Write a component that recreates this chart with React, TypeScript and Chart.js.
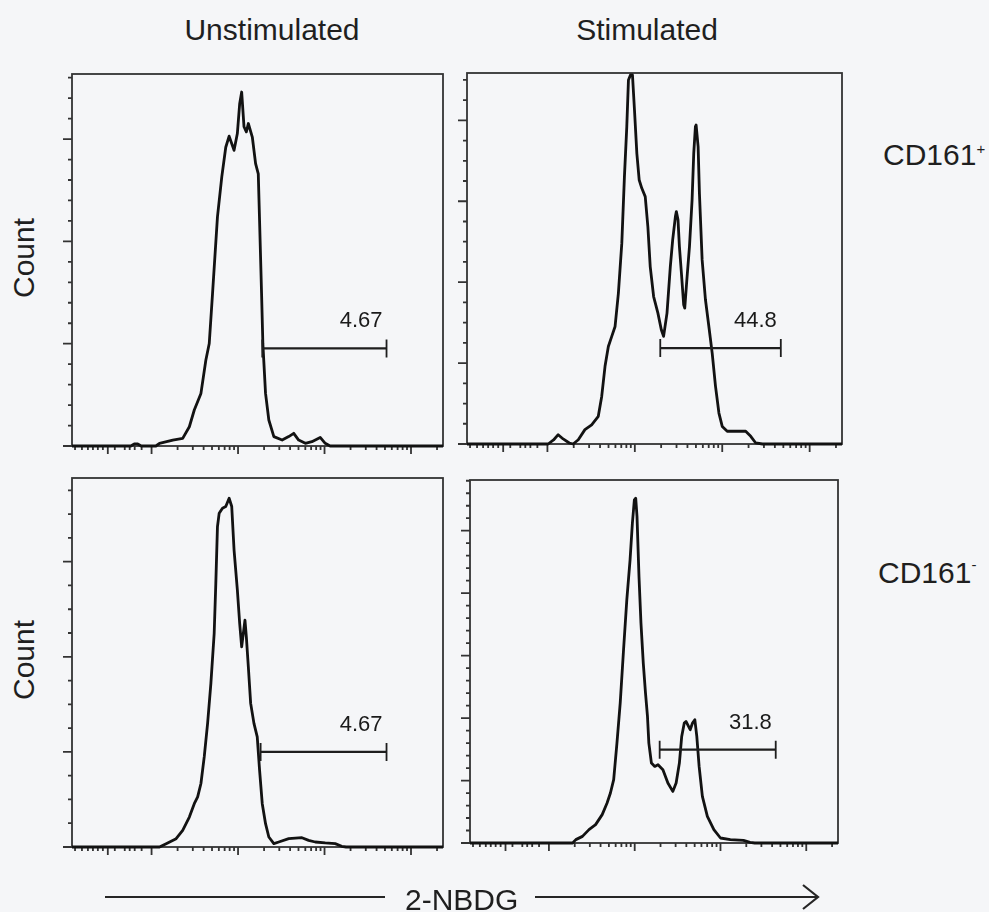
import React, { useEffect, useRef } from 'react';
import { Chart, registerables } from 'chart.js';

Chart.register(...registerables);

// 2-NBDG axis in log10 display units (biexponential zone below 10^2)
const X_MIN = 1.08;
const X_MAX = 5.37;
const xMajorTicks = [1.494, 2, 3, 4, 5];
const xMinorTicks = [
  1.115, 1.195, 1.264, 1.322, 1.379, 1.437, 1.575, 1.69, 1.747, 1.805, 1.885,
  2.301, 2.477, 2.602, 2.699, 2.778, 2.845, 2.903, 2.954,
  3.301, 3.477, 3.602, 3.699, 3.778, 3.845, 3.903, 3.954,
  4.301, 4.477, 4.602, 4.699, 4.778, 4.845, 4.903, 4.954,
  5.301,
];

// Unstimulated, CD161+
const unstimPosX = [1.08, 1.76, 1.8, 1.84, 1.88, 2.05, 2.092, 2.245, 2.36, 2.437, 2.494, 2.571, 2.628, 2.667, 2.705, 2.762, 2.812, 2.858, 2.897, 2.954, 2.992, 3.019, 3.042, 3.069, 3.096, 3.119, 3.165, 3.203, 3.234, 3.249, 3.272, 3.287, 3.318, 3.356, 3.414, 3.51, 3.586, 3.644, 3.701, 3.778, 3.854, 3.95, 4.008, 4.065, 5.37];
const unstimPosY = [0, 0, 1.0, 1.0, 0, 0, 1.3, 2.9, 3.7, 9.4, 17.6, 25.7, 42, 50.1, 74.5, 112, 131.5, 146, 151.4, 144.5, 152.7, 167.3, 173, 156, 153.5, 157.6, 151, 138, 133, 110, 74.5, 50, 25.7, 12.7, 4.6, 2.9, 4.6, 6.2, 2.9, 1.3, 2.1, 4.2, 1.3, 0, 0];

// Stimulated, CD161+
const stimPosX = [1.08, 2.008, 2.07, 2.123, 2.18, 2.25, 2.295, 2.353, 2.429, 2.506, 2.582, 2.621, 2.659, 2.697, 2.736, 2.774, 2.812, 2.851, 2.881, 2.908, 2.927, 2.95, 2.973, 2.996, 3.023, 3.05, 3.08, 3.119, 3.149, 3.176, 3.215, 3.264, 3.303, 3.329, 3.368, 3.406, 3.433, 3.464, 3.475, 3.494, 3.51, 3.533, 3.559, 3.571, 3.598, 3.625, 3.655, 3.674, 3.693, 3.701, 3.724, 3.739, 3.77, 3.808, 3.847, 3.885, 3.923, 3.962, 4.0, 4.057, 4.115, 4.268, 4.326, 4.383, 4.46, 5.37];
const stimPosY = [0, 0, 2.0, 4.6, 2.5, 0.5, 0, 2.1, 7.1, 9.5, 13.7, 23.5, 38.4, 48.2, 53.2, 58.1, 74.6, 99.3, 132.2, 156.9, 179.9, 182.4, 182.4, 165.1, 143.7, 130.5, 126.4, 122.3, 107.5, 87.7, 72.9, 64.7, 56.5, 53.2, 64.7, 87.7, 100.9, 112.4, 114.9, 110.8, 97.6, 84.4, 68.8, 67.2, 82.8, 97.6, 120.7, 143.7, 156.9, 157.7, 147.0, 123.9, 91.0, 71.3, 58.1, 44.9, 28.5, 15.3, 8.7, 6.3, 6.3, 6.3, 3.8, 0.5, 0, 0];

// Unstimulated, CD161-
const unstimNegX = [1.08, 2.092, 2.169, 2.284, 2.36, 2.437, 2.494, 2.533, 2.571, 2.609, 2.648, 2.686, 2.724, 2.743, 2.762, 2.782, 2.82, 2.858, 2.897, 2.927, 2.954, 2.992, 3.019, 3.042, 3.08, 3.096, 3.119, 3.146, 3.184, 3.222, 3.249, 3.28, 3.318, 3.356, 3.414, 3.471, 3.586, 3.739, 3.816, 3.893, 4.008, 4.123, 4.199, 4.25, 5.37];
const unstimNegY = [0, 0, 1.4, 3.5, 7.0, 12.6, 18.2, 21.1, 26.7, 37.9, 52.0, 68.8, 89.8, 110.9, 134.7, 140.4, 142.5, 143.2, 146.7, 143.2, 124.9, 108.1, 94.0, 84.2, 95.4, 88.4, 75.8, 60.4, 52.0, 46.3, 32.3, 18.2, 9.8, 4.2, 1.4, 2.1, 3.5, 3.9, 2.8, 2.1, 1.7, 1.4, 0.3, 0, 0];

// Stimulated, CD161-
const stimNegX = [1.08, 2.276, 2.314, 2.391, 2.467, 2.544, 2.621, 2.678, 2.717, 2.755, 2.793, 2.831, 2.87, 2.908, 2.946, 2.973, 2.996, 3.012, 3.027, 3.05, 3.073, 3.1, 3.126, 3.149, 3.165, 3.195, 3.234, 3.272, 3.329, 3.387, 3.444, 3.483, 3.521, 3.548, 3.578, 3.598, 3.647, 3.674, 3.701, 3.724, 3.751, 3.789, 3.847, 3.923, 4.0, 4.115, 4.268, 4.345, 4.4, 5.37];
const stimNegY = [0, 0, 2.7, 5.3, 10.7, 14.7, 22.7, 32.0, 40.0, 50.7, 80.0, 112.0, 154.7, 194.7, 226.7, 256.0, 274.7, 276.0, 261.3, 213.3, 176.0, 144.0, 120.0, 101.3, 80.0, 64.0, 61.3, 62.7, 58.7, 48.0, 41.3, 48.0, 64.0, 85.3, 96.0, 97.3, 90.7, 96.0, 98.7, 85.3, 61.3, 37.3, 21.3, 10.7, 4.0, 2.7, 2.1, 0.5, 0, 0];

// Positive-gate markers, one per panel (order: unstim+, stim+, unstim-, stim-)
const gateStart = [3.28, 3.291, 3.261, 3.291];
const gateEnd = [4.717, 4.67, 4.717, 4.644];
const gateLevel = [47.7, 47.4, 40.0, 74.7];
const gateLabels = ['4.67', '44.8', '4.67', '31.8'];

// Count axes
const yMaxes = [181.8, 183.4, 155.2, 290.6];
const yMajorSteps = [50, 40, 40, 50];
const Y_MINOR_STEP = 10;

const panelXs = [unstimPosX, stimPosX, unstimNegX, stimNegX];
const panelYs = [unstimPosY, stimPosY, unstimNegY, stimNegY];

const PANEL_BOXES = [
  { left: 72, top: 74, width: 371, height: 372 },
  { left: 467, top: 73, width: 375, height: 371 },
  { left: 72, top: 478, width: 371, height: 369 },
  { left: 470, top: 480, width: 368, height: 363 },
];
const PAD = { left: 14, top: 4, right: 4, bottom: 12 };

const FONT = '"Liberation Sans", Arial, sans-serif';
const INK = '#121212';
const FRAME = '#333333';

const facsPlugin = {
  id: 'facs',
  beforeDatasetsDraw(chart: any, _args: any, opts: any) {
    const { ctx, chartArea: a, scales } = chart;
    const xs = scales.x;
    const ys = scales.y;
    ctx.save();
    ctx.strokeStyle = FRAME;
    ctx.lineWidth = 1.8;
    ctx.strokeRect(a.left, a.top, a.right - a.left, a.bottom - a.top);
    ctx.beginPath();
    for (const v of xMajorTicks) {
      const p = xs.getPixelForValue(v);
      ctx.moveTo(p, a.bottom);
      ctx.lineTo(p, a.bottom + 8);
    }
    for (const v of xMinorTicks) {
      const p = xs.getPixelForValue(v);
      ctx.moveTo(p, a.bottom);
      ctx.lineTo(p, a.bottom + 4);
    }
    const yMax = ys.max;
    for (let v = 0; v <= yMax + 1e-6; v += opts.minorStep) {
      const p = ys.getPixelForValue(v);
      const major = Math.round(v) % opts.majorStep === 0;
      ctx.moveTo(a.left - (major ? 9 : 4), p);
      ctx.lineTo(a.left, p);
    }
    ctx.stroke();
    ctx.restore();
  },
  afterDatasetsDraw(chart: any, _args: any, opts: any) {
    const { ctx, scales } = chart;
    const x1 = scales.x.getPixelForValue(opts.gateStart);
    const x2 = scales.x.getPixelForValue(opts.gateEnd);
    const y = scales.y.getPixelForValue(opts.gateLevel);
    ctx.save();
    ctx.strokeStyle = '#1e1e1e';
    ctx.lineWidth = 2.3;
    ctx.beginPath();
    ctx.moveTo(x1, y);
    ctx.lineTo(x2, y);
    ctx.stroke();
    ctx.lineWidth = 1.8;
    ctx.beginPath();
    ctx.moveTo(x1, y - 9);
    ctx.lineTo(x1, y + 9);
    ctx.moveTo(x2, y - 9);
    ctx.lineTo(x2, y + 9);
    ctx.stroke();
    ctx.fillStyle = '#1a1a1a';
    ctx.font = `22px ${FONT}`;
    ctx.textAlign = 'right';
    ctx.textBaseline = 'alphabetic';
    ctx.fillText(opts.label, x2 - 4, y - 21);
    ctx.restore();
  },
};

function FacsPanel({ index }: { index: number }) {
  const ref = useRef<HTMLCanvasElement>(null);
  const box = PANEL_BOXES[index];
  const w = box.width + PAD.left + PAD.right;
  const h = box.height + PAD.top + PAD.bottom;

  useEffect(() => {
    const canvas = ref.current;
    if (!canvas) return;
    const xs = panelXs[index];
    const ys = panelYs[index];
    const chart = new Chart(canvas, {
      type: 'line',
      data: {
        datasets: [
          {
            data: xs.map((x, i) => ({ x, y: ys[i] })),
            borderColor: INK,
            borderWidth: 2.8,
            borderJoinStyle: 'round',
            pointRadius: 0,
            tension: 0,
            fill: false,
            clip: 4,
          },
        ],
      },
      options: {
        responsive: false,
        animation: false,
        events: [],
        layout: { padding: PAD },
        scales: {
          x: { type: 'linear', min: X_MIN, max: X_MAX, display: false },
          y: { type: 'linear', min: 0, max: yMaxes[index], display: false },
        },
        plugins: {
          legend: { display: false },
          tooltip: { enabled: false },
          facs: {
            majorStep: yMajorSteps[index],
            minorStep: Y_MINOR_STEP,
            gateStart: gateStart[index],
            gateEnd: gateEnd[index],
            gateLevel: gateLevel[index],
            label: gateLabels[index],
          },
        } as any,
      },
      plugins: [facsPlugin],
    });
    return () => chart.destroy();
  }, [index]);

  return (
    <canvas
      ref={ref}
      width={w}
      height={h}
      style={{ position: 'absolute', left: box.left - PAD.left, top: box.top - PAD.top, width: w, height: h }}
    />
  );
}

const textBase: React.CSSProperties = {
  position: 'absolute',
  fontFamily: FONT,
  fontSize: 30,
  lineHeight: '30px',
  color: '#1f1f1f',
  whiteSpace: 'nowrap',
};

export default function App() {
  return (
    <div
      style={{
        position: 'absolute',
        left: 0,
        top: 0,
        width: 989,
        height: 912,
        overflow: 'hidden',
        background: '#f5f6f8',
      }}
    >
      <div style={{ ...textBase, left: 122, top: 15, width: 300, textAlign: 'center' }}>Unstimulated</div>
      <div style={{ ...textBase, left: 497, top: 15, width: 300, textAlign: 'center' }}>Stimulated</div>

      <div style={{ ...textBase, left: 24, top: 258, transform: 'translate(-50%, -50%) rotate(-90deg)' }}>Count</div>
      <div style={{ ...textBase, left: 24, top: 660, transform: 'translate(-50%, -50%) rotate(-90deg)' }}>Count</div>

      <div style={{ ...textBase, left: 883, top: 140 }}>
        CD161<span style={{ fontSize: 15, position: 'relative', top: -11 }}>+</span>
      </div>
      <div style={{ ...textBase, left: 878, top: 558 }}>
        CD161<span style={{ fontSize: 15, position: 'relative', top: -13 }}>-</span>
      </div>

      {[0, 1, 2, 3].map((i) => (
        <FacsPanel key={i} index={i} />
      ))}

      <svg
        width={989}
        height={912}
        style={{ position: 'absolute', left: 0, top: 0, pointerEvents: 'none' }}
      >
        <g stroke="#262626" strokeWidth={2.2} fill="none">
          <line x1={105} y1={897} x2={385} y2={897} />
          <line x1={535} y1={897} x2={818} y2={897} />
          <polyline points="803,885 818,897 803,909" />
        </g>
      </svg>
      <div style={{ ...textBase, left: 405, top: 885 }}>2-NBDG</div>
    </div>
  );
}
